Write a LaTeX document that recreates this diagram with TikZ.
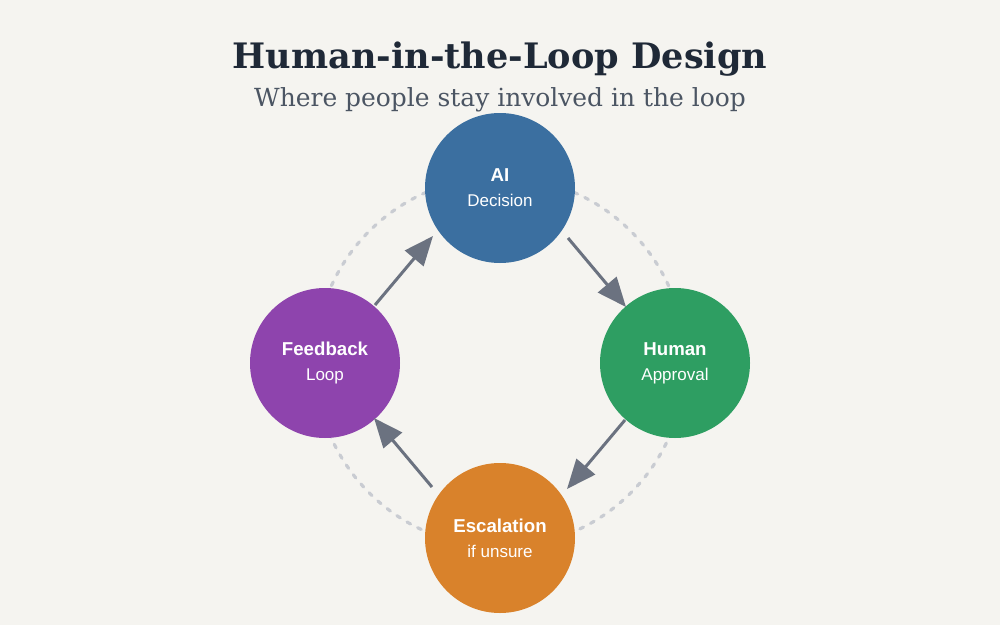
\documentclass[tikz,border=0pt]{standalone}
\usepackage{fontspec}
\setmainfont{Liberation Sans}
\newfontfamily\titlefont{DejaVu Serif}
\usetikzlibrary{calc,arrows.meta}

\definecolor{bgpaper}{HTML}{F5F4F0}
\definecolor{titleink}{HTML}{1F2937}
\definecolor{subink}{HTML}{4B5563}
\definecolor{arrowgray}{HTML}{6B7280}
\definecolor{ringgray}{HTML}{C9CCD2}
\definecolor{aiblue}{HTML}{3B6FA0}
\definecolor{humangreen}{HTML}{2E9E62}
\definecolor{escorange}{HTML}{D9822B}
\definecolor{feedpurple}{HTML}{8E44AD}

\tikzset{
  stage/.style={circle, minimum size=112.5pt, inner sep=0pt, text=white,
    align=center, font=\fontsize{12.75}{18.75}\selectfont},
  flow/.style={draw=arrowgray, line width=2.25pt,
    -{Triangle[length=22pt,width=18pt]}},
  ring/.style={draw=ringgray, line width=2.4pt, line cap=round,
    dash pattern=on 3pt off 6pt}
}

\begin{document}
\begin{tikzpicture}[x=0.75pt,y=-0.75pt]
  \useasboundingbox (0,0) rectangle (1000,625);
  \fill[bgpaper] (0,0) rectangle (1000,625);

  % heading
  \node[text=titleink, font=\titlefont\bfseries\fontsize{26.3}{30}\selectfont] (title) at (500,59) {Human-in-the-Loop Design};
  \node[text=subink, font=\titlefont\fontsize{18.7}{22}\selectfont] (subtitle) at (500,100) {Where people stay involved in the loop};

  % dotted ring behind the stages
  \draw[ring] (500,362) circle (185);

  % stages
  \node[stage, fill=aiblue] (ai) at (500,188) {{\bfseries\fontsize{14}{18.75}\selectfont AI}\\Decision};
  \node[stage, fill=humangreen] (human) at (675,363) {{\bfseries\fontsize{14}{18.75}\selectfont Human}\\Approval};
  \node[stage, fill=escorange] (esc) at (500,538) {{\bfseries\fontsize{14}{18.75}\selectfont Escalation}\\if unsure};
  \node[stage, fill=feedpurple] (feed) at (325,363) {{\bfseries\fontsize{14}{18.75}\selectfont Feedback}\\Loop};

  % arrows round the loop
  \draw[flow] ($(ai)+(68,50)$) -- ($(human)+(-49,-56)$);
  \draw[flow] ($(human)+(-50,57)$) -- ($(esc)+(67,-49)$);
  \draw[flow] ($(esc)+(-68,-51)$) -- ($(feed)+(49,55)$);
  \draw[flow] ($(feed)+(50,-58)$) -- ($(ai)+(-67,48)$);
\end{tikzpicture}
\end{document}
